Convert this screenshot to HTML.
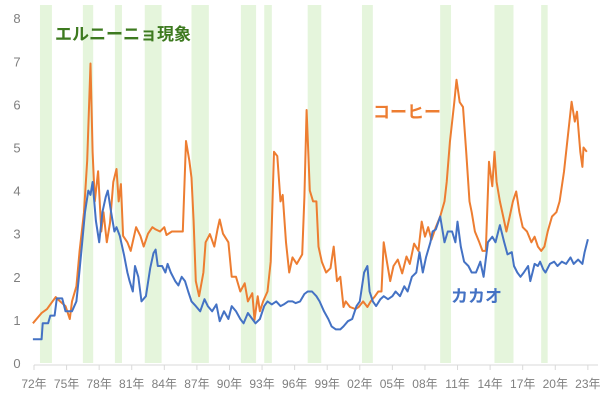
<!DOCTYPE html>
<html><head><meta charset="utf-8"><style>
html,body{margin:0;padding:0;background:#fff;}
svg{display:block;}
text{font-family:"Liberation Sans","Noto Sans CJK JP",sans-serif;}
</style></head><body>
<svg id="chart" width="600" height="401" viewBox="0 0 600 401" xmlns="http://www.w3.org/2000/svg">
<g id="bands"></g>
<g id="axes"></g>
<g id="series"></g>
<text x="55" y="40" font-size="17" font-weight="bold" fill="#3d7a1f">エルニーニョ現象</text>
<text x="373" y="118" font-size="17" font-weight="bold" fill="#ed7d31">コーヒー</text>
<text x="451" y="302" font-size="17" font-weight="bold" fill="#4472c4">カカオ</text>
</svg>
<script>
const yTicks=[0,1,2,3,4,5,6,7,8];
const xTickYears=[1972,1975,1978,1981,1984,1987,1990,1993,1996,1999,2002,2005,2008,2011,2014,2017,2020,2023];
const xTickLabels=["72年","75年","78年","81年","84年","87年","90年","93年","96年","99年","02年","05年","08年","11年","14年","17年","20年","23年"];
const bandStarts=[1972.55,1976.5,1979.45,1982.2,1986.5,1991.05,1993.2,1997.2,2002.2,2009.4,2014.4,2018.7];
const bandEnds=[1973.65,1977.45,1980.1,1983.75,1988.1,1992.45,1993.9,1998.45,2003.2,2010.4,2016.15,2019.3];
const coffeeYears=[1971.9,1972.7,1973.2,1973.7,1974.0,1974.4,1974.9,1975.3,1975.5,1975.9,1976.2,1976.6,1976.9,1977.2,1977.4,1977.6,1977.9,1978.2,1978.4,1978.7,1979.0,1979.3,1979.6,1979.8,1980.0,1980.2,1980.6,1980.9,1981.4,1981.8,1982.1,1982.5,1982.9,1983.2,1983.6,1984.0,1984.2,1984.7,1985.4,1985.7,1986.0,1986.3,1986.5,1986.7,1986.9,1987.2,1987.6,1987.8,1988.2,1988.6,1988.9,1989.1,1989.4,1989.9,1990.2,1990.6,1991.0,1991.4,1991.7,1992.1,1992.3,1992.6,1992.8,1993.1,1993.5,1993.8,1994.1,1994.4,1994.7,1994.9,1995.2,1995.5,1995.8,1996.2,1996.7,1996.9,1997.1,1997.4,1997.7,1998.0,1998.2,1998.5,1998.9,1999.3,1999.6,1999.9,2000.2,2000.5,2000.7,2001.1,2001.6,2001.9,2002.3,2002.7,2003.0,2003.4,2003.7,2004.0,2004.2,2004.5,2004.8,2005.1,2005.5,2005.9,2006.3,2006.6,2007.0,2007.4,2007.7,2008.0,2008.3,2008.6,2009.0,2009.4,2009.8,2010.0,2010.3,2010.7,2010.9,2011.2,2011.5,2011.8,2012.1,2012.3,2012.6,2013.0,2013.3,2013.6,2013.9,2014.2,2014.4,2014.6,2014.9,2015.2,2015.5,2015.8,2016.1,2016.4,2016.7,2017.0,2017.4,2017.8,2018.1,2018.4,2018.7,2019.0,2019.3,2019.7,2020.1,2020.4,2020.8,2021.2,2021.5,2021.8,2022.0,2022.3,2022.5,2022.6,2022.9];
const coffeeValues=[0.92,1.16,1.25,1.43,1.53,1.43,1.32,1.02,1.43,1.78,2.6,3.5,4.7,6.95,4.9,3.75,4.45,3.05,3.5,2.8,3.25,4.2,4.5,3.75,4.15,2.95,2.8,2.6,3.15,2.95,2.7,3.0,3.15,3.1,3.05,3.15,2.97,3.05,3.05,3.05,5.15,4.7,4.3,3.3,1.9,1.55,2.1,2.8,2.99,2.7,3.1,3.33,3.0,2.8,2.0,2.0,1.66,1.85,1.43,1.62,1.0,1.55,1.2,1.43,1.66,2.35,4.9,4.8,3.75,3.9,2.8,2.1,2.45,2.3,2.52,3.85,5.87,4.0,3.75,3.75,2.7,2.35,2.1,2.2,2.7,1.9,2.0,1.3,1.43,1.3,1.25,1.3,1.43,1.3,1.43,1.55,1.66,1.66,2.8,2.35,1.9,2.25,2.4,2.08,2.47,2.3,2.77,2.6,3.28,2.93,3.15,2.86,3.15,3.4,3.75,4.2,5.13,6.05,6.57,6.05,5.94,4.9,3.75,3.5,3.05,2.8,2.6,2.6,4.67,4.1,4.9,4.2,3.75,3.4,3.05,3.4,3.75,3.98,3.5,3.15,3.05,2.8,2.93,2.7,2.6,2.7,3.05,3.4,3.5,3.75,4.44,5.36,6.06,5.6,5.83,4.9,4.55,5.0,4.9];
const cacaoYears=[1971.9,1972.7,1972.8,1973.3,1973.5,1973.9,1974.1,1974.6,1974.9,1975.5,1975.9,1976.1,1976.4,1976.7,1977.0,1977.2,1977.4,1977.7,1978.0,1978.3,1978.6,1978.8,1979.1,1979.4,1979.6,1979.9,1980.3,1980.6,1980.8,1981.1,1981.3,1981.6,1981.9,1982.3,1982.7,1983.0,1983.2,1983.4,1983.8,1984.1,1984.3,1984.6,1985.0,1985.3,1985.6,1985.9,1986.2,1986.5,1986.9,1987.3,1987.7,1988.0,1988.4,1988.8,1989.1,1989.5,1989.9,1990.2,1990.6,1991.0,1991.3,1991.7,1992.1,1992.4,1992.8,1993.2,1993.5,1993.9,1994.3,1994.7,1995.0,1995.4,1995.8,1996.1,1996.5,1996.9,1997.2,1997.6,1998.0,1998.3,1998.7,1999.1,1999.4,1999.8,2000.2,2000.5,2000.9,2001.3,2001.7,2002.0,2002.4,2002.7,2002.9,2003.2,2003.5,2003.9,2004.2,2004.6,2005.0,2005.3,2005.7,2006.1,2006.4,2006.8,2007.2,2007.5,2007.8,2008.1,2008.5,2008.7,2009.0,2009.4,2009.8,2010.1,2010.5,2010.8,2011.0,2011.3,2011.6,2012.0,2012.3,2012.7,2013.1,2013.4,2013.8,2014.2,2014.5,2014.9,2015.3,2015.6,2016.0,2016.2,2016.5,2016.8,2017.1,2017.5,2017.7,2017.9,2018.1,2018.4,2018.6,2018.9,2019.1,2019.5,2019.9,2020.2,2020.6,2021.0,2021.4,2021.7,2022.1,2022.5,2022.7,2023.0];
const cacaoValues=[0.55,0.55,0.92,0.92,1.1,1.1,1.5,1.5,1.2,1.2,1.43,1.9,2.7,3.5,4.0,3.9,4.2,3.3,2.8,3.5,3.85,4.0,3.5,3.05,3.15,2.95,2.5,2.1,1.9,1.66,2.25,2.0,1.43,1.55,2.2,2.55,2.63,2.25,2.25,2.1,2.3,2.1,1.9,1.8,2.0,1.9,1.66,1.43,1.32,1.2,1.48,1.32,1.2,1.36,0.97,1.2,1.02,1.32,1.2,1.02,0.92,1.16,1.02,0.92,1.02,1.32,1.43,1.36,1.43,1.32,1.36,1.43,1.43,1.39,1.43,1.6,1.66,1.66,1.55,1.43,1.2,1.02,0.85,0.78,0.78,0.85,0.97,1.02,1.32,1.43,2.1,2.25,1.66,1.43,1.32,1.48,1.55,1.48,1.55,1.66,1.55,1.78,1.66,2.0,2.1,2.57,2.1,2.45,2.8,3.05,3.1,3.4,2.8,3.05,3.05,2.8,3.28,2.7,2.35,2.25,2.1,2.1,2.35,2.0,2.8,2.93,2.8,3.2,2.8,2.52,2.57,2.25,2.1,2.0,2.1,2.25,1.9,2.1,2.3,2.25,2.35,2.17,2.1,2.3,2.35,2.25,2.35,2.3,2.45,2.3,2.4,2.3,2.57,2.87];

const NS="http://www.w3.org/2000/svg";
const X0=34, PXY=10.86, Y0=363, PXV=43.1;
function xScale(yr){return X0+(yr-1972)*PXY;}
function yScale(v){return Y0-v*PXV;}
function mk(tag,attrs,parent){const e=document.createElementNS(NS,tag);for(const k in attrs)e.setAttribute(k,attrs[k]);parent.appendChild(e);return e;}
const bands=document.getElementById('bands'),axes=document.getElementById('axes'),series=document.getElementById('series');
bandStarts.forEach((s,i)=>{
  const r=mk('rect',{x:xScale(s),y:5,width:xScale(bandEnds[i])-xScale(s),height:Y0-5,fill:'#e5f5dc'},bands);
  
  
});
yTicks.forEach(t=>{
  const tx=mk('text',{x:17,y:yScale(t)+5,'font-size':13,fill:'#7f7f7f','text-anchor':'middle'},axes);
  tx.textContent=t;
  
  
});
const ax=mk('line',{x1:X0,x2:598,y1:Y0+2,y2:Y0+2,stroke:'#d9d9d9','stroke-width':1},axes);


xTickYears.forEach((yr,i)=>{
  const x=xScale(yr);
  const tk=mk('line',{x1:x,x2:x,y1:Y0+2,y2:Y0+7,stroke:'#d9d9d9'},axes);
  
  
  const tx=mk('text',{x:x,y:388,'font-size':12,fill:'#7f7f7f','text-anchor':'middle'},axes);
  tx.textContent=xTickLabels[i];
  
  
});
function line(xs,vs,color,name){
  const d=xs.map((yr,i)=>(i?'L':'M')+xScale(yr).toFixed(1)+' '+yScale(vs[i]).toFixed(1)).join(' ');
  const p=mk('path',{d:d,fill:'none',stroke:color,'stroke-width':2,'stroke-linejoin':'round'},series);
  
  
}
line(coffeeYears,coffeeValues,'#ed7d31','coffee-line');
line(cacaoYears,cacaoValues,'#4472c4','cacao-line');
</script>
</body></html>
